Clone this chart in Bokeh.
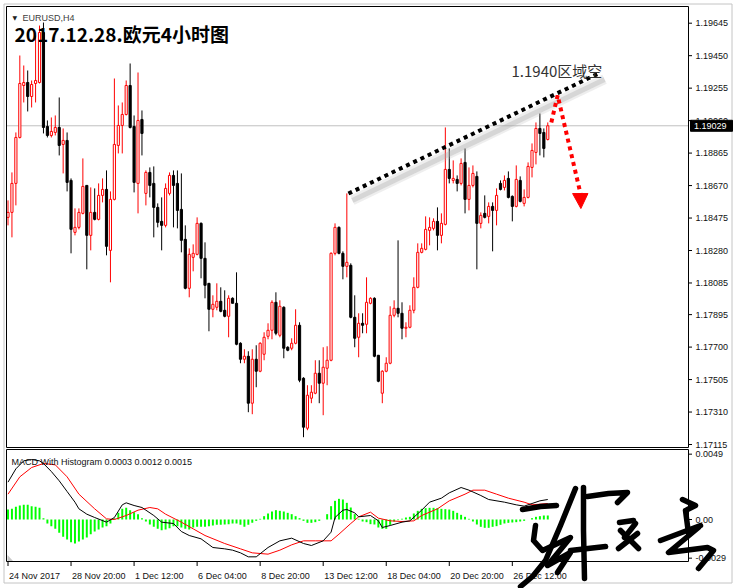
from bokeh.plotting import figure
from bokeh.models import ColumnDataSource, Range1d
from bokeh.embed import file_html
from bokeh.resources import INLINE
from bokeh.core.properties import value

# ---------------- data (EURUSD H4, bar index 0 = 24 Nov 2017) ----------------
opens = [1.18479, 1.18509, 1.18683, 1.18959, 1.19271, 1.19289, 1.19205, 1.19283, 1.19289, 1.19589,
         1.19025, 1.18971, 1.18989, 1.19019, 1.18917, 1.18941, 1.18701, 1.18389, 1.18419, 1.18503,
         1.18671, 1.18371, 1.18509, 1.18467, 1.18611, 1.18647, 1.18281, 1.18587, 1.18911, 1.19031,
         1.19097, 1.19271, 1.19025, 1.18683, 1.19067, 1.18623, 1.18749, 1.18683, 1.18539, 1.18455,
         1.18431, 1.18623, 1.18731, 1.18683, 1.18527, 1.18347, 1.18053, 1.18239, 1.18257, 1.18443,
         1.18233, 1.18083, 1.17927, 1.17939, 1.17975, 1.17921, 1.17885, 1.17993, 1.17963, 1.17723,
         1.17627, 1.17645, 1.17363, 1.17627, 1.17555, 1.17657, 1.17765, 1.17801, 1.17969, 1.17771,
         1.17939, 1.17699, 1.17693, 1.17723, 1.17831, 1.17513, 1.17213, 1.17393, 1.17423, 1.17543,
         1.17483, 1.17573, 1.17621, 1.18263, 1.18419, 1.18263, 1.18185, 1.18191, 1.17879, 1.17759,
         1.17843, 1.17837, 1.17963, 1.17993, 1.17651, 1.17423, 1.17555, 1.17603, 1.17891, 1.17933,
         1.17903, 1.17813, 1.17819, 1.17921, 1.18059, 1.18269, 1.18287, 1.18401, 1.18413, 1.18455,
         1.18371, 1.18437, 1.18767, 1.18701, 1.18707, 1.18683, 1.18809, 1.18587, 1.18671, 1.18725,
         1.18443, 1.18503, 1.18485, 1.18545, 1.18521, 1.18683, 1.18659, 1.18713, 1.18605, 1.18545,
         1.18701, 1.18563, 1.18599, 1.18779, 1.18869, 1.19013, 1.18989, 1.18947]
highs = [1.18581, 1.18749, 1.18989, 1.19451, 1.19391, 1.19361, 1.19301, 1.19571, 1.19631, 1.19649,
         1.19061, 1.19079, 1.19091, 1.19199, 1.19013, 1.18989, 1.18713, 1.18533, 1.18533, 1.18833,
         1.18671, 1.18659, 1.18653, 1.18683, 1.18713, 1.18761, 1.18635, 1.19313, 1.19151, 1.19169,
         1.19301, 1.19403, 1.19091, 1.19349, 1.19121, 1.18761, 1.18779, 1.18785, 1.18563, 1.18599,
         1.18683, 1.18749, 1.18761, 1.18761, 1.18743, 1.18431, 1.18293, 1.18317, 1.18479, 1.18449,
         1.18329, 1.18083, 1.18011, 1.18083, 1.18059, 1.18041, 1.18011, 1.17999, 1.18149, 1.17729,
         1.17687, 1.17675, 1.17687, 1.17711, 1.17729, 1.17789, 1.17843, 1.17981, 1.18029, 1.17981,
         1.17945, 1.17705, 1.17753, 1.17927, 1.17849, 1.17519, 1.17471, 1.17471, 1.17621, 1.17621,
         1.17699, 1.17705, 1.18269, 1.18443, 1.18425, 1.18275, 1.18623, 1.18203, 1.18011, 1.17903,
         1.17903, 1.18119, 1.17999, 1.17999, 1.17651, 1.17561, 1.17639, 1.17945, 1.17981, 1.18341,
         1.17969, 1.17849, 1.17951, 1.18119, 1.18323, 1.18323, 1.18485, 1.18479, 1.18473, 1.18539,
         1.18503, 1.19019, 1.18893, 1.18821, 1.18731, 1.18833, 1.18893, 1.18779, 1.18791, 1.18755,
         1.18509, 1.18611, 1.18569, 1.18569, 1.18653, 1.18701, 1.18731, 1.18755, 1.18611, 1.18791,
         1.18725, 1.18647, 1.18809, 1.18923, 1.19049, 1.19103, 1.19013, 1.19049]
lows = [1.18431, 1.18359, 1.18551, 1.18953, 1.19169, 1.19115, 1.19139, 1.19169, 1.19283, 1.18983,
        1.18959, 1.18959, 1.18971, 1.18851, 1.18743, 1.18635, 1.18263, 1.18371, 1.18407, 1.18497,
        1.18167, 1.18281, 1.18461, 1.18461, 1.18569, 1.18251, 1.18089, 1.18581, 1.18863, 1.18863,
        1.19091, 1.19013, 1.18629, 1.18503, 1.18851, 1.18551, 1.18599, 1.18359, 1.18419, 1.18281,
        1.18419, 1.18611, 1.18419, 1.18413, 1.18269, 1.18047, 1.17999, 1.18155, 1.18251, 1.18113,
        1.17993, 1.17795, 1.17879, 1.17921, 1.17909, 1.17879, 1.17759, 1.17963, 1.17711, 1.17603,
        1.17603, 1.17309, 1.17297, 1.17459, 1.17549, 1.17621, 1.17747, 1.17747, 1.17771, 1.17759,
        1.17633, 1.17675, 1.17681, 1.17717, 1.17489, 1.17159, 1.17201, 1.17363, 1.17417, 1.17363,
        1.17291, 1.17471, 1.17615, 1.18251, 1.18257, 1.18107, 1.18119, 1.17873, 1.17699, 1.17639,
        1.17783, 1.17783, 1.17957, 1.17639, 1.17489, 1.17363, 1.17549, 1.17597, 1.17879, 1.17879,
        1.17747, 1.17759, 1.17813, 1.17903, 1.18053, 1.18263, 1.18281, 1.18311, 1.18401, 1.18281,
        1.18323, 1.18431, 1.18683, 1.18683, 1.18635, 1.18671, 1.18503, 1.18521, 1.18659, 1.18167,
        1.18413, 1.18473, 1.18443, 1.18275, 1.18431, 1.18641, 1.18641, 1.18593, 1.18455, 1.18539,
        1.18569, 1.18545, 1.18593, 1.18719, 1.18797, 1.18851, 1.18839, 1.18941]
closes = [1.18509, 1.18683, 1.18959, 1.19283, 1.19289, 1.19205, 1.19277, 1.19301, 1.19589, 1.19019,
          1.18971, 1.18995, 1.19019, 1.18911, 1.18941, 1.18689, 1.18407, 1.18419, 1.18509, 1.18665,
          1.18371, 1.18509, 1.18467, 1.18611, 1.18647, 1.18305, 1.18587, 1.18917, 1.19031, 1.19097,
          1.19271, 1.19019, 1.18689, 1.19061, 1.18983, 1.18749, 1.18671, 1.18539, 1.18449, 1.18431,
          1.18653, 1.18731, 1.18671, 1.18521, 1.18341, 1.18053, 1.18257, 1.18263, 1.18443, 1.18233,
          1.18071, 1.17927, 1.17957, 1.17975, 1.17915, 1.17885, 1.17993, 1.17963, 1.17717, 1.17627,
          1.17645, 1.17363, 1.17627, 1.17555, 1.17723, 1.17759, 1.17801, 1.17969, 1.17783, 1.17945,
          1.17693, 1.17681, 1.17723, 1.17831, 1.17501, 1.17219, 1.17411, 1.17429, 1.17543, 1.17483,
          1.17579, 1.17621, 1.18263, 1.18419, 1.18263, 1.18185, 1.18209, 1.17879, 1.17753, 1.17843,
          1.17831, 1.17969, 1.17993, 1.17645, 1.17495, 1.17555, 1.17603, 1.17891, 1.17933, 1.17903,
          1.17813, 1.17819, 1.17921, 1.18059, 1.18269, 1.18293, 1.18407, 1.18419, 1.18455, 1.18371,
          1.18443, 1.18767, 1.18713, 1.18713, 1.18683, 1.18803, 1.18587, 1.18671, 1.18743, 1.18443,
          1.18491, 1.18479, 1.18545, 1.18521, 1.18611, 1.18647, 1.18701, 1.18599, 1.18545, 1.18707,
          1.18575, 1.18599, 1.18785, 1.18881, 1.19013, 1.18983, 1.18893, 1.19029]

# MACD histogram per bar (units of 0.0001)
hist_e4 = [7.5, 8, 9.5, 10.5, 11, 11, 10, 9.5, 8.75, 1, -3, -5, -7, -10, -13, -15, -17, -18, -16.5, -15,
           -13.5, -11, -9, -7.5, -6, -5, -3, 1, 5, 8, 8.75, 7, 5.5, 4, 1, -1.5, -3.75, -5.5, -7, -8,
           -7.5, -6.5, -5, -5, -6, -7, -7.5, -6, -5.5, -5.5, -5.5, -5, -4.5, -4, -4, -3.75, -3.5, -3, -3, -4,
           -5.5, -4, -2.5, -1, 0.5, 2.5, 4.5, 6, 7, 6.5, 6, 5, 4, 2.5, 1, -1, -2.5, -2.5, -2, -1,
           0, 4, 10, 14, 15.5, 15, 12.5, 9, 4, 0.5, -1.5, -2, -3.5, -3.75, -6, -7, -7, -4, -1.5, -0.5,
           0.5, 1.5, 2, 4.5, 6.5, 8, 8.5, 8.75, 8.75, 8.5, 8, 7.75, 7.5, 6.5, 5, 3.5, 2, 0.5, -1.5, -3.75,
           -5.5, -6.25, -6.25, -5.5, -5, -4, -3, -2.5, -2.25, -2, -1.5, -1, 0, 1, 2, 2.5, 3, 3]
# MACD main line (black) and signal line (red), read at these bars (units of 0.0001)
macd_bar = [0, 2, 4, 6, 8, 9, 11, 13, 15, 17, 18, 20, 22, 25, 27, 29, 30, 32, 34, 37,
            39, 42, 44, 46, 49, 52, 55, 57, 59, 61, 63, 66, 69, 72, 75, 77, 80, 82, 83, 85,
            86, 88, 89, 92, 94, 95, 97, 100, 102, 105, 107, 110, 112, 115, 117, 120, 122, 126, 129, 131,
            133, 135, 137]
macd_e4 = [28, 38, 44, 45, 44, 42, 36, 29, 21, 13, 8, 4, 1.5, -2, 1.5, 11, 12.5, 10.5, 9, 3,
           -2, -3, -9, -12, -14.5, -21, -22, -23, -25, -28, -28, -21, -16, -14, -18, -19.5, -16, -9.5, 1.5, 7,
           7.5, 5, 2, 3, -1, -6, -4.5, -2, -1, 7, 13, 16, 20, 24, 22, 18, 15, 13, 11, 10,
           12, 14, 15]
sig_bar = [0, 3, 6, 9, 12, 15, 18, 22, 25, 27, 30, 33, 36, 38, 40, 44, 47, 50, 55, 59,
           62, 66, 69, 72, 75, 78, 82, 84, 87, 89, 92, 94, 97, 100, 103, 105, 109, 112, 116, 118,
           121, 124, 127, 131, 133, 137]
sig_e4 = [19, 32, 39, 42, 41, 32, 19, 8, 0.5, 0, 3, 7, 9, 8, 4, -2, -7, -12, -18, -22,
          -25, -26, -23, -19, -16, -16, -16, -11, -3, 2, 5.5, 1, -1, -1.5, -1, 3, 8, 14, 19, 22,
          22, 19, 16, 13, 11, 12]

price_ticks = [1.19645, 1.19450, 1.19255, 1.19060, 1.18865, 1.18670, 1.18475, 1.18280,
               1.18085, 1.17895, 1.17700, 1.17505, 1.17310, 1.17115]
macd_ticks = [0.0049, 0.0, -0.0029]
macd_tick_labels = ["0.0049", "0.00", "-0.0029"]
date_ticks = [0, 16, 32, 48, 64, 80, 96, 112, 128]
date_labels = ["24 Nov 2017", "28 Nov 20:00", "1 Dec 12:00", "6 Dec 04:00", "8 Dec 20:00",
               "13 Dec 12:00", "18 Dec 04:00", "20 Dec 20:00", "26 Dec 12:00"]
last_price = 1.19029
title_text = "2017.12.28.欧元4小时图"
symbol_text = "EURUSD,H4"
note_text = "1.1940区域空"
indicator_text = "MACD With Histogram 0.0003 0.0012 0.0015"

# hand-drawn analysis marks (bar index, price)
trend_x = [86.4, 150.4]
trend_y = [1.18622, 1.19349]
arrow_x = [137.9, 139.5, 145.3]
arrow_y = [1.19049, 1.19211, 1.18622]
head_x = [143.3, 147.2, 145.4]
head_y = [1.18622, 1.18622, 1.18532]

# handwritten signature watermark (page pixels)
signature = [
    [(522, 509), (540, 506), (556, 505)],
    [(520, 586), (532, 576), (545, 560), (560, 525), (575, 488)],
    [(583, 487), (583, 530), (584, 578)],
    [(587, 496), (608, 493), (627, 492), (617, 502)],
    [(535, 525), (533, 540), (542, 550), (570, 537), (547, 565), (570, 552), (557, 572)],
    [(570, 550), (605, 546)],
    [(619, 522), (633, 520)],
    [(635, 523), (624, 537)],
    [(620, 530), (638, 548)],
    [(637, 533), (618, 548)],
    [(682, 499), (695, 505), (687, 509)],
    [(685, 510), (688, 533)],
    [(660, 540), (700, 525)],
    [(698, 527), (668, 552), (707, 547), (713, 550), (698, 568)],
]

# ---------------- page geometry (pixels) ----------------
W, H = 740, 588
BAR_PX, BAR0_X = 3.94, 7.5
P_REF, P_REF_Y, P_PER_PX = 1.19645, 22.7, 0.00006005
M_ZERO_Y, M_PER_PX = 519.0, 0.000075


def bx(px):
    return (px - BAR0_X) / BAR_PX


def py(y):
    return P_REF - (y - P_REF_Y) * P_PER_PX


def my(y):
    return (M_ZERO_Y - y) * M_PER_PX


FONT = "Liberation Sans"
CJK = "Noto Sans CJK SC"
FRAME_GRAY = "#c4c4c4"
M = "macd"

n = len(closes)
bars = list(range(n))
bull = [c >= o for o, c in zip(opens, closes)]
src = ColumnDataSource(dict(
    x=bars, h=highs, l=lows,
    top=[max(o, c) for o, c in zip(opens, closes)],
    bot=[min(o, c) for o, c in zip(opens, closes)],
    line=["#ff0000" if b else "#000000" for b in bull],
    fill=["#ffffff" if b else "#000000" for b in bull],
))

p = figure(width=W, height=H, x_range=Range1d(bx(0), bx(W)), y_range=Range1d(py(H), py(0)),
           x_axis_location=None, y_axis_location=None,
           output_backend="svg", toolbar_location=None, min_border=0,
           background_fill_color="white", border_fill_color="white")
p.extra_y_ranges = {M: Range1d(my(H), my(0))}
p.grid.visible = False
p.outline_line_color = None

# window frame
p.quad(left=[bx(3.5)], right=[bx(731.5)], top=[py(3.5)], bottom=[py(582.5)],
       fill_color=None, line_color=FRAME_GRAY, line_width=1)

# ---------------- main price panel ----------------
p.segment(x0=[bx(6)], y0=[last_price], x1=[bx(688)], y1=[last_price],
          line_color="#c0c0c0", line_width=1)

p.segment(x0="x", y0="l", x1="x", y1="h", source=src, line_color="line", line_width=1)
p.vbar(x="x", width=0.55, top="top", bottom="bot", source=src,
       fill_color="fill", line_color="line", line_width=1)

# trend line with soft shadow, red arrow
p.line([v + 1.0 for v in trend_x], [v - 0.00040 for v in trend_y], line_color="#b0b0b0",
       line_width=10, line_alpha=0.22)
p.line([v + 1.0 for v in trend_x], [v - 0.00042 for v in trend_y], line_color="#a8a8a8",
       line_width=5, line_alpha=0.35)
p.line(trend_x, trend_y, line_color="black", line_width=4, line_dash="4 4")
p.line(arrow_x, arrow_y, line_color="#ff0000", line_width=4, line_dash="4 4")
p.patch(head_x, head_y, fill_color="#ff0000", line_color="#ff0000")

p.quad(left=[bx(6)], right=[bx(688)], top=[py(6)], bottom=[py(447)],
       fill_color=None, line_color="black", line_width=1)

# price scale
p.segment(x0=[bx(688)] * len(price_ticks), x1=[bx(691.5)] * len(price_ticks),
          y0=price_ticks, y1=price_ticks, line_color="black", line_width=1)
p.text(x=[bx(695)] * len(price_ticks), y=price_ticks, text=["%.5f" % t for t in price_ticks],
       text_font=value(FONT), text_font_size=value("9px"), text_color="#111111",
       text_align="left", text_baseline="middle")
p.quad(left=[bx(690)], right=[bx(732)], top=[last_price + 5.5 * P_PER_PX],
       bottom=[last_price - 5.5 * P_PER_PX], fill_color="black", line_color="black")
p.text(x=[bx(693.5)], y=[last_price], text=["%.5f" % last_price],
       text_font=value(FONT), text_font_size=value("9px"), text_color="white",
       text_align="left", text_baseline="middle")

# texts
p.text(x=[bx(12)], y=[py(16.5)], text=["▼"], text_font=value("DejaVu Sans"),
       text_font_size=value("6px"), text_color="#202020", text_baseline="alphabetic")
p.text(x=[bx(22)], y=[py(17)], text=[symbol_text], text_font=value(FONT),
       text_font_size=value("9px"), text_color="#404040", text_baseline="alphabetic")
p.text(x=[bx(14)], y=[py(33)], text=[title_text], text_font=value(CJK),
       text_font_style="bold", text_font_size=value("19px"), text_color="#000000",
       text_baseline="alphabetic")
p.text(x=[bx(511)], y=[py(70)], text=[note_text], text_font=value(CJK),
       text_font_size=value("15px"), text_color="#333333", text_baseline="alphabetic")

# ---------------- MACD panel ----------------
p.vbar(x=bars, top=[v * 1e-4 for v in hist_e4], bottom=0, width=0.5,
       fill_color="#00ff00", line_color=None, y_range_name=M)
p.line(sig_bar, [v * 1e-4 for v in sig_e4], line_color="#ff0000", line_width=1, y_range_name=M)
p.line(macd_bar, [v * 1e-4 for v in macd_e4], line_color="#000000", line_width=1, y_range_name=M)

p.patch([bx(7), bx(7), bx(12.5)], [my(554.5), my(560.5), my(560.5)],
        fill_color="#c8c8c8", line_color=None, y_range_name=M)
p.quad(left=[bx(6)], right=[bx(688)], top=[my(449)], bottom=[my(561)],
       fill_color=None, line_color="black", line_width=1, y_range_name=M)

p.text(x=[bx(11)], y=[my(461.5)], text=[indicator_text], text_font=value(FONT),
       text_font_size=value("9px"), text_color="#111111", text_baseline="alphabetic",
       y_range_name=M)

p.segment(x0=[bx(688)] * 3, x1=[bx(691.5)] * 3, y0=macd_ticks, y1=macd_ticks,
          line_color="black", line_width=1, y_range_name=M)
p.text(x=[bx(695)] * 3, y=macd_ticks, text=macd_tick_labels, text_font=value(FONT),
       text_font_size=value("9px"), text_color="#111111", text_align="left",
       text_baseline="middle", y_range_name=M)

# time scale
p.segment(x0=date_ticks, x1=date_ticks, y0=[my(561)] * len(date_ticks),
          y1=[my(565.5)] * len(date_ticks), line_color="black", line_width=1, y_range_name=M)
p.text(x=[t + 1.0 / BAR_PX for t in date_ticks], y=[my(575)] * len(date_ticks),
       text=date_labels, text_font=value(FONT), text_font_size=value("9px"),
       text_color="#111111", text_align="left", text_baseline="alphabetic", y_range_name=M)

# signature watermark
p.multi_line(xs=[[bx(a) for a, b in s] for s in signature],
             ys=[[my(b) for a, b in s] for s in signature],
             line_color="#000000", line_width=5.5, line_cap="round", line_join="round",
             y_range_name=M)

open("out.html", "w").write(file_html(p, INLINE))
